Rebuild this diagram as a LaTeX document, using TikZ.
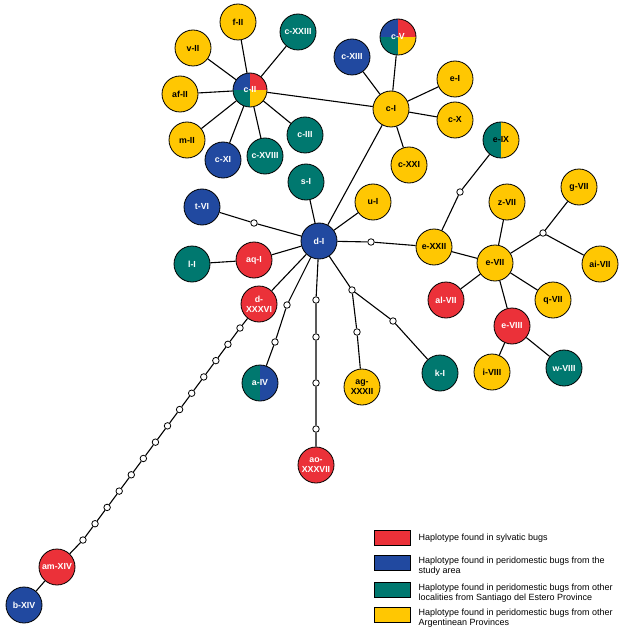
\documentclass[tikz,border=0pt]{standalone}
\usepackage{fontspec}
\setmainfont{Liberation Sans}
\usetikzlibrary{positioning}
\definecolor{sred}{HTML}{EB3139}
\definecolor{pblue}{HTML}{2149A0}
\definecolor{steal}{HTML}{00786F}
\definecolor{ayel}{HTML}{FFC702}

\begin{document}
\begin{tikzpicture}[x=1pt,y=-1pt]
\tikzset{hap/.style = {shape=circle,draw,line width=0.8pt,minimum size=36pt,inner sep=0pt,
  font=\fontsize{8.8}{9.8}\selectfont\bfseries,align=center}}
\tikzset{sylv/.style = {hap,fill=sred,text=white}}
\tikzset{peri/.style = {hap,fill=pblue,text=white}}
\tikzset{sde/.style = {hap,fill=steal,text=white}}
\tikzset{arg/.style = {hap,fill=ayel,text=black}}
\tikzset{mv/.style = {shape=circle,draw,fill=white,line width=0.8pt,minimum size=6.5pt,inner sep=0pt}}
\tikzset{edge/.style = {line width=1.1pt}}
\tikzset{legbox/.style = {shape=rectangle,draw,line width=0.8pt,minimum width=36pt,minimum height=15pt,inner sep=0pt}}
\tikzset{legtext/.style = {font=\fontsize{9}{10.5}\selectfont,align=left,inner sep=0pt}}
\useasboundingbox (0,0) rectangle (622,631);

% mixed haplotypes
\begin{scope}
\clip (250,90) circle (17pt);
\fill[pblue] (232,72) rectangle (250,90);
\fill[sred] (250,72) rectangle (268,90);
\fill[steal] (232,90) rectangle (250,108);
\fill[ayel] (250,90) rectangle (268,108);
\end{scope}
\begin{scope}
\clip (398,37) circle (18pt);
\fill[pblue] (380,19) rectangle (398,37);
\fill[sred] (398,19) rectangle (416,37);
\fill[steal] (380,37) rectangle (398,55);
\fill[ayel] (398,37) rectangle (416,55);
\end{scope}
\begin{scope}
\clip (501,140) circle (18pt);
\fill[steal] (483,122) rectangle (501,158);
\fill[ayel] (501,122) rectangle (519,158);
\end{scope}
\begin{scope}
\clip (260,383) circle (18pt);
\fill[steal] (242,365) rectangle (260,401);
\fill[pblue] (260,365) rectangle (278,401);
\end{scope}

% vertices
\node[hap,text=white,minimum size=34pt] (cII) at (250,90) {c-II};
\node[arg] (fII) at (238,22) {f-II};
\node[sde] (cXXIII) at (298,32) {c-XXIII};
\node[arg] (vII) at (193,48) {v-II};
\node[arg] (afII) at (180,94) {af-II};
\node[arg] (mII) at (187,140) {m-II};
\node[peri] (cXI) at (223,160) {c-XI};
\node[sde] (cXVIII) at (265,156) {c-XVIII};
\node[sde] (cIII) at (305,135) {c-III};
\node[sde] (sI) at (306,182) {s-I};
\node[peri] (cXIII) at (352,57) {c-XIII};
\node[hap,text=white] (cV) at (398,37) {c-V};
\node[arg] (cI) at (391,109) {c-I};
\node[arg] (eI) at (455,79) {e-I};
\node[arg] (cX) at (455,120) {c-X};
\node[arg] (cXXI) at (409,165) {c-XXI};
\node[hap,text=black] (eIX) at (501,140) {e-IX};
\node[peri] (dI) at (319,241) {d-I};
\node[peri] (tVI) at (202,207) {t-VI};
\node[arg] (uI) at (373,202) {u-I};
\node[sde] (lI) at (192,264) {l-I};
\node[sylv] (aqI) at (254,260) {aq-I};
\node[sylv] (dXXXVI) at (259,304) {d-\\XXXVI};
\node[arg] (eXXII) at (434,247) {e-XXII};
\node[arg] (zVII) at (507,202) {z-VII};
\node[arg] (gVII) at (579,187) {g-VII};
\node[arg] (eVII) at (495,263) {e-VII};
\node[arg] (aiVII) at (600,264) {ai-VII};
\node[sylv] (alVII) at (446,300) {al-VII};
\node[arg] (qVII) at (553,300) {q-VII};
\node[sylv] (eVIII) at (512,326) {e-VIII};
\node[arg] (iVIII) at (492,372) {i-VIII};
\node[sde] (wVIII) at (564,368) {w-VIII};
\node[sde] (kI) at (440,373) {k-I};
\node[hap,text=white] (aIV) at (260,383) {a-IV};
\node[arg] (agXXXII) at (362,387) {ag-\\XXXII};
\node[sylv] (aoXXXVII) at (316,465) {ao-\\XXXVII};
\node[sylv] (amXIV) at (57,567) {am-XIV};
\node[peri] (bXIV) at (24,605) {b-XIV};

% median vectors
\node[mv] (tv1) at (254,223) {};
\node[mv] (ex1) at (371,242) {};
\node[mv] (a1) at (287,305) {};
\node[mv] (a2) at (275,342) {};
\node[mv] (o1) at (316,300) {};
\node[mv] (o2) at (316,337) {};
\node[mv] (o3) at (316,383) {};
\node[mv] (o4) at (316,429) {};
\node[mv] (br) at (352,290) {};
\node[mv] (g1) at (357,332) {};
\node[mv] (k1) at (393,321) {};
\node[mv] (ix1) at (460,192) {};
\node[mv] (gv1) at (543,233) {};
\foreach \i in {0,...,13}
  \node[mv] (ch\i) at ({240-12.08*\i},{328+16.31*\i}) {};

%edges
\foreach \n in {fII,cXXIII,vII,afII,mII,cXI,cXVIII,cIII,cI}
  \draw[edge] (cII) -- (\n);
\foreach \n in {cXIII,cV,eI,cX,cXXI}
  \draw[edge] (cI) -- (\n);
\foreach \n in {cI,sI,uI,aqI,dXXXVI,br}
  \draw[edge] (dI) -- (\n);
\draw[edge] (aqI) -- (lI);
\draw[edge] (dI) -- (tv1) -- (tVI);
\draw[edge] (dI) -- (ex1) -- (eXXII);
\draw[edge] (dI) -- (a1) -- (a2) -- (aIV);
\draw[edge] (dI) -- (o1) -- (o2) -- (o3) -- (o4) -- (aoXXXVII);
\draw[edge] (br) -- (g1) -- (agXXXII);
\draw[edge] (br) -- (k1) -- (kI);
\draw[edge] (eXXII) -- (ix1) -- (eIX);
\draw[edge] (eXXII) -- (eVII);
\foreach \n in {zVII,qVII,alVII,eVIII,gv1}
  \draw[edge] (eVII) -- (\n);
\draw[edge] (gv1) -- (gVII);
\draw[edge] (gv1) -- (aiVII);
\draw[edge] (eVIII) -- (iVIII);
\draw[edge] (eVIII) -- (wVIII);
\draw[edge] (dXXXVI) -- (ch0);
\foreach \i [evaluate=\i as \j using int(\i+1)] in {0,...,12}
  \draw[edge] (ch\i) -- (ch\j);
\draw[edge] (ch13) -- (amXIV);
\draw[edge] (amXIV) -- (bXIV);

% legend
\node[legbox,fill=sred] (lg1) at (392,538) {};
\node[legbox,fill=pblue] (lg2) at (392,563) {};
\node[legbox,fill=steal] (lg3) at (392,590) {};
\node[legbox,fill=ayel] (lg4) at (392,615) {};
\node[legtext,right=8pt of lg1] (lt1) {Haplotype found in sylvatic bugs};
\node[legtext,right=8pt of lg2,yshift=-3pt] (lt2) {Haplotype found in peridomestic bugs from the\\study area};
\node[legtext,right=8pt of lg3,yshift=-3pt] (lt3) {Haplotype found in peridomestic bugs from other\\localities from Santiago del Estero Province};
\node[legtext,right=8pt of lg4,yshift=-3pt] (lt4) {Haplotype found in peridomestic bugs from other\\Argentinean Provinces};
\end{tikzpicture}
\end{document}
